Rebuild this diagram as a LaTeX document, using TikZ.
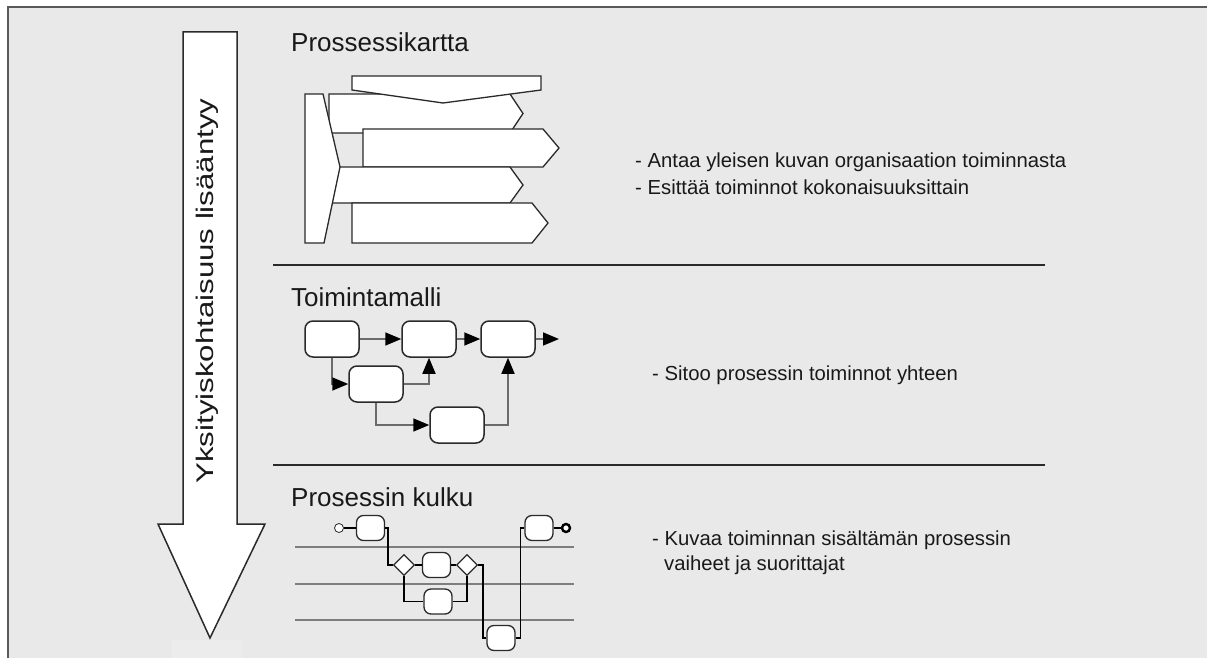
\documentclass[tikz,border=0pt]{standalone}
\usepackage{fontspec}
\usepackage{graphicx}
\setmainfont{Liberation Sans}
\usetikzlibrary{arrows.meta,shapes.geometric}

\definecolor{panel}{HTML}{E9E9E9}
\definecolor{frame}{HTML}{5A5A5A}
\definecolor{ink}{HTML}{2A2A2A}
\definecolor{link}{HTML}{6B6B6B}
\definecolor{lane}{HTML}{7E7E7E}

\begin{document}
\begin{tikzpicture}[x=1pt,y=-1pt,
  block/.style={draw=ink,line width=1.3pt,fill=white,line join=miter},
  title/.style={anchor=base west,inner sep=0pt,font=\fontsize{26}{30}\selectfont,text=black!90},
  txt/.style={anchor=base west,inner sep=0pt,font=\fontsize{20.3}{24}\selectfont,text=black!90},
  rule/.style={draw=ink,line width=1.3pt},
  tbox/.style={draw=ink,line width=1.5pt,fill=white,rounded corners=8pt,
    minimum width=54pt,minimum height=36pt,inner sep=0pt},
  tlink/.style={draw=link,line width=1.6pt,
    -{Triangle[length=16pt,width=13pt,color=black]}},
  pbox/.style={draw=ink,line width=1.3pt,fill=white,rounded corners=7pt,
    minimum width=28pt,minimum height=25pt,inner sep=0pt},
  gate/.style={diamond,draw=ink,line width=1.3pt,fill=white,
    minimum width=21pt,minimum height=21pt,inner sep=0pt},
  flow/.style={draw=black,line width=1.4pt},
  lane/.style={draw=lane,line width=2pt},
  startc/.style={circle,draw=ink,line width=0.8pt,fill=white,minimum size=9pt,inner sep=0pt},
  endc/.style={circle,draw=black,line width=2.4pt,fill=white,minimum size=8pt,inner sep=0pt}]

\useasboundingbox (0,0) rectangle (1207,658);
\fill[white] (0,0) rectangle (1207,658);
\fill[panel] (8,7) rectangle (1207,658);
\draw[frame,line width=2pt] (8,658) -- (8,7) -- (1207,7);
\fill[white,opacity=0.18] (172,640) rectangle (242,658);

% big downward arrow with its caption
\draw[block,line width=1.5pt] (183,32) -- (237,32) -- (237,524) -- (265,524) -- (210,638)
  -- (158,524) -- (183,524) -- cycle;
\node[rotate=90,anchor=base,inner sep=0pt,font=\fontsize{24}{24}\selectfont,text=black!90]
  (detail) at (213,291) {\scalebox{1.3}[1]{Yksityiskohtaisuus lisääntyy}};

% section rules
\draw[rule] (273,265) -- (1045,265);
\draw[rule] (273,465) -- (1045,465);

% ---------- Prosessikartta ----------
\node[title] (t1) at (291,52) {Prossessikartta};
\draw[block] (329,94) -- (510,94) -- (523,113.5) -- (510,133) -- (329,133) -- cycle;
\draw[block] (363,129) -- (543,129) -- (559,148) -- (543,167) -- (363,167) -- cycle;
\draw[block] (329,167) -- (510,167) -- (523,185) -- (510,203) -- (329,203) -- cycle;
\draw[block] (352,203) -- (532,203) -- (548,223) -- (532,243) -- (352,243) -- cycle;
\draw[block] (352,76) -- (541,76) -- (541,90) -- (443,103) -- (352,90) -- cycle;
\draw[block] (305,94) -- (323,94) -- (340,167) -- (324,243) -- (305,243) -- cycle;

\node[txt] (d1a) at (635,167) {- Antaa yleisen kuvan organisaation toiminnasta};
\node[txt] (d1b) at (635,194) {- Esittää toiminnot kokonaisuuksittain};

% ---------- Toimintamalli ----------
\node[title] (t2) at (291,306) {Toimintamalli};
\node[tbox] (b1) at (332,339) {};
\node[tbox] (b2) at (429,339) {};
\node[tbox] (b3) at (508,339) {};
\node[tbox] (b4) at (376,384) {};
\node[tbox] (b5) at (457,425) {};
\coordinate (bout) at (559,339);

\draw[tlink] (b1.east) -- (b2.west);
\draw[tlink] (b2.east) -- (b3.west);
\draw[tlink] (b3.east) -- (bout);
\draw[tlink] (b1.south) |- (b4.west);
\draw[tlink] (b4.east) -| (b2.south);
\draw[tlink] (b4.south) |- (b5.west);
\draw[tlink] (b5.east) -| (b3.south);

\node[txt] (d2) at (652,380) {- Sitoo prosessin toiminnot yhteen};

% ---------- Prosessin kulku ----------
\node[title] (t3) at (291,506) {Prosessin kulku};
\draw[lane] (295,547) -- (574,547);
\draw[lane] (295,584) -- (574,584);
\draw[lane] (295,620) -- (574,620);

\node[startc] (s) at (339,528) {};
\node[pbox] (p1) at (370.5,528) {};
\node[gate] (g1) at (404,565) {};
\node[pbox] (p2) at (436.5,565) {};
\node[gate] (g2) at (467,565) {};
\node[pbox] (p3) at (438,601.5) {};
\node[pbox] (p4) at (501,638) {};
\node[pbox] (p5) at (539,528) {};
\node[endc] (e) at (566,528) {};

\draw[flow] (s) -- (p1);
\draw[flow] (p1.east) -- ++(3,0) |- (g1.west);
\draw[flow] (g1) -- (p2);
\draw[flow] (p2) -- (g2);
\draw[flow] (g1.south) |- (p3.west);
\draw[flow] (p3.east) -| (g2.south);
\draw[flow] (g2.east) -- ++(5,0) |- (p4.west);
\draw[flow] (p4.east) -- ++(5,0) |- (p5.west);
\draw[flow] (p5) -- (e);

\node[txt] (d3a) at (652,545) {- Kuvaa toiminnan sisältämän prosessin};
\node[txt] (d3b) at (664,570) {vaiheet ja suorittajat};
\end{tikzpicture}
\end{document}
